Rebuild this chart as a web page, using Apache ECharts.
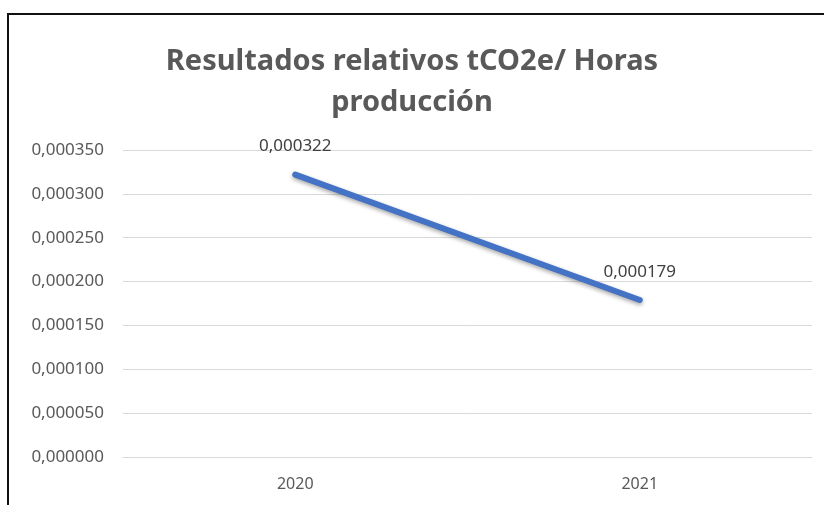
<!DOCTYPE html>
<html>
<head>
<meta charset="utf-8">
<script src="https://cdn.jsdelivr.net/npm/echarts@6/dist/echarts.min.js"></script>
<style>
  html, body { margin: 0; padding: 0; background: #fff; }
  #frame { position: absolute; left: 7px; top: 13px; width: 817px; height: 492px; border-left: 2px solid #111; border-top: 2px solid #111; box-sizing: border-box; }
  #chart { position: absolute; left: 0; top: 0; width: 824px; height: 505px; }
</style>
</head>
<body>
<div id="frame"></div>
<div id="chart"></div>
<script>
const titleText = 'Resultados relativos tCO2e/ Horas\nproducción';
const categories = ['2020', '2021'];
const values = [0.000322, 0.000179];
const yMin = 0;
const yMax = 0.00035;
const yStep = 0.00005;

const fmt = v => Number(v).toFixed(6).replace('.', ',');
const font = '"Noto Sans", sans-serif';

const chart = echarts.init(document.getElementById('chart'), null, { renderer: 'canvas' });
chart.setOption({
  backgroundColor: 'transparent',
  animation: false,
  title: {
    text: titleText,
    left: 'center',
    top: 36,
    textStyle: { fontFamily: font, fontSize: 29, fontWeight: 'bold', color: '#595959', lineHeight: 41 }
  },
  grid: { left: 123, right: 12, top: 150, bottom: 48, containLabel: false },
  xAxis: {
    type: 'category',
    data: categories,
    boundaryGap: true,
    axisLine: { show: true, lineStyle: { color: '#D9D9D9', width: 1 } },
    axisTick: { show: false },
    axisLabel: { color: '#595959', fontFamily: font, fontSize: 16, margin: 19 }
  },
  yAxis: {
    type: 'value',
    min: yMin,
    max: yMax,
    interval: yStep,
    axisLine: { show: false },
    axisTick: { show: false },
    splitLine: { lineStyle: { color: '#D9D9D9', width: 1 } },
    axisLabel: { color: '#595959', fontFamily: font, fontSize: 17, margin: 19, formatter: fmt }
  },
  series: [{
    type: 'line',
    data: values,
    symbol: 'circle',
    symbolSize: 1,
    itemStyle: { color: '#4472C4' },
    lineStyle: { color: '#4472C4', width: 6, cap: 'round', shadowColor: 'rgba(0,0,0,0.35)', shadowBlur: 4, shadowOffsetY: 2 },
    label: { show: true, position: 'top', distance: 19, color: '#404040', fontFamily: font, fontSize: 17, formatter: p => fmt(p.value) }
  }]
});
</script>
</body>
</html>
